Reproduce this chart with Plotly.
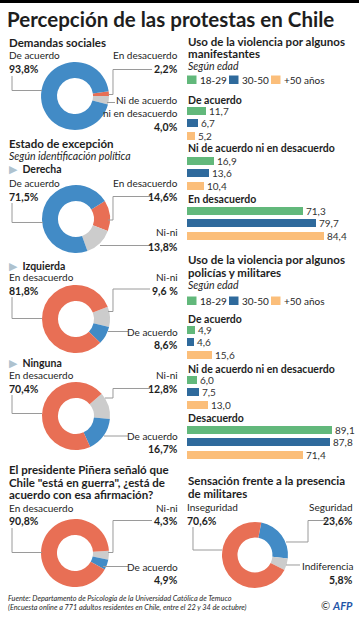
import plotly.graph_objects as go

# ---------------- DATA ----------------
demandas_labels = ["En desacuerdo", "Ni de acuerdo ni en desacuerdo", "De acuerdo"]
demandas_values = [2.2, 4.0, 93.8]

derecha_labels = ["En desacuerdo", "Ni-ni", "De acuerdo"]
derecha_values = [14.6, 13.8, 71.5]

izquierda_labels = ["Ni-ni", "De acuerdo", "En desacuerdo"]
izquierda_values = [9.6, 8.6, 81.8]

ninguna_labels = ["Ni-ni", "De acuerdo", "En desacuerdo"]
ninguna_values = [12.8, 16.7, 70.4]

guerra_labels = ["Ni-ni", "De acuerdo", "En desacuerdo"]
guerra_values = [4.3, 4.9, 90.8]

militares_labels = ["Seguridad", "Indiferencia", "Inseguridad"]
militares_values = [23.6, 5.8, 70.6]

age_groups = ["18-29", "30-50", "+50 años"]
manif_answers = ["De acuerdo", "Ni de acuerdo ni en desacuerdo", "En desacuerdo"]
manif_18_29 = [11.7, 16.9, 71.3]
manif_30_50 = [6.7, 13.6, 79.7]
manif_50_mas = [5.2, 10.4, 84.4]

pol_answers = ["De acuerdo", "Ni de acuerdo ni en desacuerdo", "Desacuerdo"]
pol_18_29 = [4.9, 6.0, 89.1]
pol_30_50 = [4.6, 7.5, 87.8]
pol_50_mas = [15.6, 13.0, 71.4]

# ---------------- STYLE ----------------
W, H = 359, 620
FONT = "Lato"
TXT = "#1e1e1e"
BLUE = "#428bc6"
RED = "#e86f55"
GRAY = "#cccccc"
GREEN_B = "#62b87b"
BLUE_B = "#2f6a9c"
ORANGE_B = "#fbbe7a"
LINE = "#9a9a9a"
AGE_COLORS = [GREEN_B, BLUE_B, ORANGE_B]

LBL = 10        # label font size
PCT = 10.5      # percentage font size
HDR = 11.5      # header font size
SUB = 10.5      # italic subtitle size


def px(x):
    return x / W


def py(y):
    return 1 - y / H


def fmt(v, sep=""):
    return f"{v:.1f}".replace(".", ",") + sep + "%"


annotations = []
shapes = []


def text(x, y, s, size=LBL, bold=False, italic=False, anchor="left", color=TXT):
    if bold:
        s = f"<b>{s}</b>"
    if italic:
        s = f"<i>{s}</i>"
    annotations.append(dict(x=px(x), y=py(y), xref="paper", yref="paper", text=s,
                            showarrow=False, xanchor=anchor, yanchor="middle",
                            font=dict(size=size, color=color, family=FONT), borderpad=0))


def path(points, color=LINE, width=1):
    d = "M " + " L ".join(f"{px(a):.5f},{py(b):.5f}" for a, b in points)
    shapes.append(dict(type="path", path=d, xref="paper", yref="paper",
                       line=dict(color=color, width=width)))


def rect(x0, y0, x1, y1, color):
    shapes.append(dict(type="rect", x0=px(x0), x1=px(x1), y0=py(y1), y1=py(y0),
                       xref="paper", yref="paper", fillcolor=color, line=dict(width=0)))


fig = go.Figure()


def donut(labels, values, colors, cx, cy, rot, r=34):
    fig.add_trace(go.Pie(labels=labels, values=values, hole=0.53, sort=False,
                         direction="clockwise", rotation=rot, textinfo="none",
                         marker=dict(colors=colors, line=dict(width=0)),
                         domain=dict(x=[px(cx - r), px(cx + r)], y=[py(cy + r), py(cy - r)]),
                         showlegend=False, hoverinfo="label+percent"))


# top black bar & title
rect(0, 0, W, 3, "#000000")
text(6, 19, "Percepción de las protestas en Chile", size=20.5, bold=True)

# ---------- Demandas sociales ----------
text(8, 42, "Demandas sociales", size=HDR, bold=True)
donut(demandas_labels, demandas_values, [RED, GRAY, BLUE], 75, 96, 82)
text(8, 55, demandas_labels[2])
text(8, 69, fmt(demandas_values[2]), size=PCT, bold=True)
text(179, 55, demandas_labels[0], anchor="right")
text(179, 69, fmt(demandas_values[0]), size=PCT, bold=True, anchor="right")
text(179, 100, "Ni de acuerdo", anchor="right")
text(179, 113, "ni en desacuerdo", anchor="right")
text(179, 127, fmt(demandas_values[1]), size=PCT, bold=True, anchor="right")
path([(12, 76), (12, 90.5), (42, 90.5)])
path([(152, 69.5), (113, 69.5), (113, 94.5), (108.5, 94.5)])
path([(107, 102.5), (115, 102.5)])

# ---------- Estado de excepción ----------
text(8, 143, "Estado de excepción", size=HDR, bold=True)
text(8, 156, "Según identificación política", size=SUB, italic=True)

TRI = '<span style="color:#aec2cf">▶</span>'

# Derecha
text(8, 169, TRI + "  <b>Derecha</b>", size=10.5)
donut(derecha_labels, derecha_values, [RED, GRAY, BLUE], 76, 219, 58)
text(8, 183, derecha_labels[2])
text(8, 197, fmt(derecha_values[2]), size=PCT, bold=True)
text(179, 183, derecha_labels[0], anchor="right")
text(179, 197, fmt(derecha_values[0]), size=PCT, bold=True, anchor="right")
text(179, 232, derecha_labels[1], anchor="right")
text(179, 247, fmt(derecha_values[1]), size=PCT, bold=True, anchor="right")
path([(12, 203), (12, 222.5), (43, 222.5)])
path([(152, 196.5), (113, 196.5), (113, 220), (108, 220)])
path([(100, 245.5), (152, 245.5)])

# Izquierda
text(8, 266, TRI + "  <b>Izquierda</b>", size=10.5)
donut(izquierda_labels, izquierda_values, [GRAY, BLUE, RED], 76, 319, 69)
text(8, 277, izquierda_labels[2])
text(8, 291, fmt(izquierda_values[2]), size=PCT, bold=True)
text(179, 277, izquierda_labels[0], anchor="right")
text(179, 291, fmt(izquierda_values[0], " "), size=PCT, bold=True, anchor="right")
text(179, 332, izquierda_labels[1], anchor="right")
text(179, 345, fmt(izquierda_values[1]), size=PCT, bold=True, anchor="right")
path([(12, 297), (12, 318.5), (42, 318.5)])
path([(150, 289), (113, 289), (113, 311.5), (108, 311.5)])
path([(108, 331.5), (128, 331.5)])

# Ninguna
text(8, 363, TRI + "  <b>Ninguna</b>", size=10.5)
donut(ninguna_labels, ninguna_values, [GRAY, BLUE, RED], 76, 416, 49)
text(8, 375, ninguna_labels[2])
text(8, 389, fmt(ninguna_values[2]), size=PCT, bold=True)
text(179, 375, ninguna_labels[0], anchor="right")
text(179, 389, fmt(ninguna_values[0]), size=PCT, bold=True, anchor="right")
text(179, 436, ninguna_labels[1], anchor="right")
text(179, 449, fmt(ninguna_values[1]), size=PCT, bold=True, anchor="right")
path([(12, 395), (12, 413.5), (42, 413.5)])
path([(150, 388.5), (113, 388.5), (113, 398), (105, 398)])
path([(104, 436), (128, 436)])

# ---------- Piñera ----------
text(8, 469.5, "El presidente Piñera señaló que", size=HDR, bold=True)
text(8, 482, "Chile \"está en guerra\", ¿está de", size=HDR, bold=True)
text(8, 494.5, "acuerdo con esa afirmación?", size=HDR, bold=True)
donut(guerra_labels, guerra_values, [GRAY, BLUE, RED], 75, 553, 86)
text(8, 508, guerra_labels[2])
text(8, 521, fmt(guerra_values[2]), size=PCT, bold=True)
text(179, 508, guerra_labels[0], anchor="right")
text(179, 521, fmt(guerra_values[0]), size=PCT, bold=True, anchor="right")
text(179, 567, guerra_labels[1], anchor="right")
text(179, 580, fmt(guerra_values[1]), size=PCT, bold=True, anchor="right")
path([(12, 528), (12, 552.5), (42, 552.5)])
path([(152, 520.5), (113, 520.5), (113, 552.5), (108, 552.5)])
path([(103, 566.5), (128, 566.5)])

# ---------- Sensación frente a militares ----------
text(187, 480.5, "Sensación frente a la presencia", size=HDR, bold=True)
text(187, 493, "de militares", size=HDR, bold=True)
donut(militares_labels, militares_values, [BLUE, GRAY, RED], 255, 555, 11, r=33)
text(186, 507, militares_labels[2])
text(186, 521, fmt(militares_values[2]), size=PCT, bold=True)
text(354, 507, militares_labels[0], anchor="right")
text(354, 521, fmt(militares_values[0]), size=PCT, bold=True, anchor="right")
text(354, 566, militares_labels[1], anchor="right")
text(354, 580, fmt(militares_values[1]), size=PCT, bold=True, anchor="right")
path([(193, 527), (193, 550), (222, 550)])
path([(327, 520.5), (308, 520.5), (308, 542), (286, 542)])
path([(286, 565), (300, 565)])

# ---------- Bar charts ----------
BAR_X0 = 187
SCALE = 1.624  # px per percentage point
GROUP_GAP = 50
STEP = 12.4


def bar_block(title_lines, header_y, legend_y, answers, series, base_y, answer_ys):
    for i, t in enumerate(title_lines):
        text(187, header_y + i * 12.5, t, size=HDR, bold=True)
    text(187, header_y + len(title_lines) * 12.5, "Según edad", size=SUB, italic=True)
    lx = [187, 229, 271]
    for k, g in enumerate(age_groups):
        rect(lx[k], legend_y - 4.5, lx[k] + 9.5, legend_y + 4, AGE_COLORS[k])
        text(lx[k] + 12, legend_y, g, size=10)
    for a, ay in zip(answers, answer_ys):
        text(187, ay, a, size=10.5, bold=True)
    for k, vals in enumerate(series):
        ys = [base_y + g * GROUP_GAP + k * STEP for g in range(len(vals))]
        fig.add_trace(go.Bar(
            x=vals, y=ys, orientation="h", width=8,
            marker=dict(color=AGE_COLORS[k], line=dict(width=0)),
            text=[f"{v:.1f}".replace(".", ",") for v in vals],
            textposition="outside", constraintext="none", cliponaxis=False,
            textfont=dict(size=10, color="#333333", family=FONT),
            name=age_groups[k], showlegend=False, hoverinfo="x+name",
            xaxis="x", yaxis="y"))


bar_block(["Uso de la violencia por algunos", "manifestantes"], 41, 80,
          manif_answers, [manif_18_29, manif_30_50, manif_50_mas], 111, [100, 148, 199])
bar_block(["Uso de la violencia por algunos", "policías y militares"], 259.5, 301,
          pol_answers, [pol_18_29, pol_30_50, pol_50_mas], 330, [319, 369, 418])

# ---------- Footer ----------
text(7, 598.5, "Fuente: Departamento de Psicología de la Universidad Católica de Temuco", size=7.3, italic=True)
text(7, 607.5, "(Encuesta online a 771 adultos residentes en Chile, entre el 22 y 34 de octubre)", size=7.3, italic=True)
text(354, 605, '<span style="color:#333">©</span> <b><i>AFP</i></b>', size=11, anchor="right", color="#1f56a8")

fig.update_layout(
    width=W, height=H, margin=dict(l=0, r=0, t=0, b=0),
    paper_bgcolor="white", plot_bgcolor="rgba(0,0,0,0)",
    xaxis=dict(domain=[px(BAR_X0), 1], range=[0, (W - BAR_X0) / SCALE], visible=False, fixedrange=True),
    yaxis=dict(domain=[0, 1], range=[H, 0], visible=False, fixedrange=True),
    bargap=0, barmode="overlay",
    annotations=annotations, shapes=shapes,
    font=dict(family=FONT, color=TXT),
    showlegend=False,
)

fig.write_html("out.html", config={"displayModeBar": False},
               post_script="document.body.style.margin='0';document.body.style.overflow='hidden';")
